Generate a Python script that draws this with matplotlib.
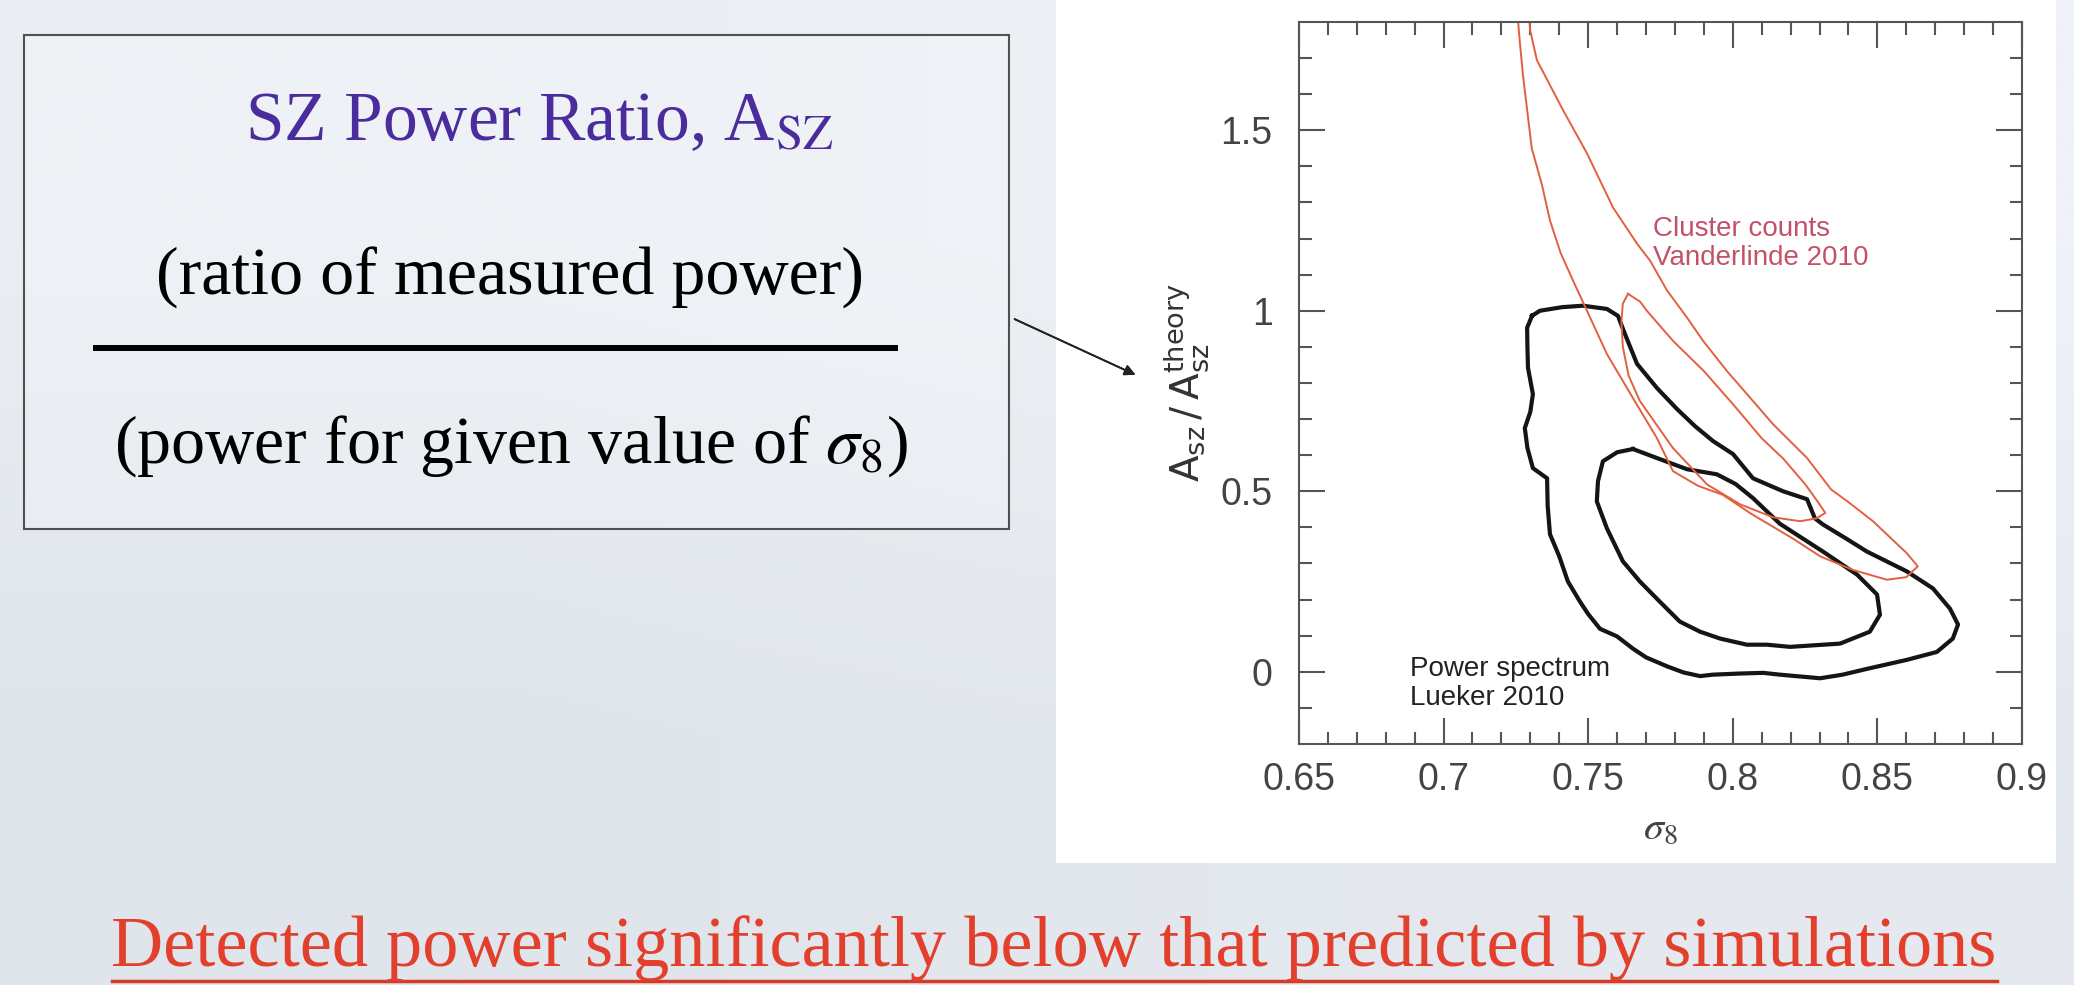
import numpy as np
import matplotlib.pyplot as plt
from matplotlib.patches import Rectangle
from matplotlib.lines import Line2D

plt.rcParams['mathtext.fontset'] = 'stix'

# contour outlines: sigma_8 vs A_sz / A_sz^theory
# power spectrum (Lueker 2010), 95% and 68%
ps95_x = [0.7306, 0.7333, 0.7410, 0.7482, 0.7565, 0.7603, 0.7627, 0.7669, 0.7738, 0.7807,
          0.7870, 0.7932, 0.8001, 0.8070, 0.8174, 0.8257, 0.8284, 0.8312, 0.8390, 0.8464,
          0.8602, 0.8692, 0.8751, 0.8779, 0.8761, 0.8706, 0.8602, 0.8464, 0.8380, 0.8302,
          0.8163, 0.8105, 0.8020, 0.7932, 0.7887, 0.7830, 0.7773, 0.7700, 0.7655, 0.7600,
          0.7541, 0.7500, 0.7472, 0.7430, 0.7400, 0.7368, 0.7360, 0.7358, 0.7309, 0.7290,
          0.7281, 0.7300, 0.7309, 0.7292, 0.7290, 0.7289]
ps95_y = [0.986, 1.000, 1.010, 1.014, 1.005, 0.986, 0.936, 0.853, 0.786, 0.728,
          0.680, 0.639, 0.603, 0.536, 0.500, 0.478, 0.425, 0.408, 0.370, 0.333,
          0.278, 0.231, 0.175, 0.131, 0.092, 0.055, 0.033, 0.008, -0.008, -0.018,
          -0.008, -0.003, -0.005, -0.008, -0.012, -0.002, 0.015, 0.040, 0.064, 0.098,
          0.119, 0.160, 0.194, 0.250, 0.320, 0.381, 0.460, 0.536, 0.564, 0.620,
          0.675, 0.720, 0.769, 0.842, 0.900, 0.953]
ps68_x = [0.7655, 0.7738, 0.7842, 0.7945, 0.8010, 0.8070, 0.8163, 0.8250, 0.8312, 0.8430,
          0.8499, 0.8509, 0.8474, 0.8371, 0.8198, 0.8118, 0.8049, 0.7956, 0.7887, 0.7817,
          0.7748, 0.7679, 0.7620, 0.7565, 0.7530, 0.7534, 0.7551, 0.7600]
ps68_y = [0.617, 0.592, 0.561, 0.547, 0.520, 0.481, 0.410, 0.365, 0.333, 0.269,
          0.214, 0.158, 0.111, 0.078, 0.069, 0.075, 0.075, 0.092, 0.111, 0.139,
          0.194, 0.250, 0.306, 0.397, 0.472, 0.528, 0.583, 0.608]

# cluster counts (Vanderlinde 2010), 95% (runs off the top) and 68%
cl95_x = [0.7250, 0.7258, 0.7264, 0.7275, 0.7290, 0.7305, 0.7340, 0.7368, 0.7405, 0.7448,
          0.7496, 0.7565, 0.7655, 0.7738, 0.7793, 0.7880, 0.7966, 0.8063, 0.8208, 0.8302,
          0.8416, 0.8533, 0.8600, 0.8640,
          0.8600, 0.8560, 0.8485, 0.8400, 0.8340, 0.8257, 0.8139, 0.8070, 0.7980, 0.7897,
          0.7842, 0.7773, 0.7714, 0.7669, 0.7586, 0.7496, 0.7413, 0.7323, 0.7299, 0.7290]
cl95_y = [1.900, 1.800, 1.742, 1.650, 1.550, 1.450, 1.350, 1.250, 1.160, 1.083,
          1.000, 0.880, 0.758, 0.647, 0.556, 0.515, 0.490, 0.438, 0.369, 0.320,
          0.282, 0.255, 0.262, 0.292,
          0.330, 0.360, 0.417, 0.470, 0.505, 0.592, 0.686, 0.750, 0.833, 0.917,
          0.981, 1.056, 1.139, 1.186, 1.286, 1.436, 1.556, 1.694, 1.778, 1.900]
cl68_x = [0.7638, 0.7680, 0.7703, 0.7793, 0.7900, 0.8000, 0.8100, 0.8175, 0.8250, 0.8295,
          0.8320, 0.8290, 0.8233, 0.8139, 0.8025, 0.7911, 0.7793, 0.7679, 0.7640, 0.7620,
          0.7615, 0.7620]
cl68_y = [1.047, 1.025, 1.000, 0.917, 0.833, 0.742, 0.647, 0.590, 0.520, 0.470,
          0.440, 0.425, 0.417, 0.428, 0.464, 0.519, 0.620, 0.750, 0.820, 0.900,
          0.970, 1.020]

xticks = [0.65, 0.7, 0.75, 0.8, 0.85, 0.9]
xtick_labels = ['0.65', '0.7', '0.75', '0.8', '0.85', '0.9']
yticks = [0, 0.5, 1, 1.5]
ytick_labels = ['0', '0.5', '1', '1.5']

fig = plt.figure(figsize=(20.74, 9.85), dpi=100)

# pale snowy slide background
bg = fig.add_axes([0, 0, 1, 1], zorder=-10)
bg_colors = np.array([[[234, 238, 243], [239, 242, 246]],
                      [[224, 229, 236], [229, 233, 239]]]) / 255
bg.imshow(bg_colors, aspect='auto', interpolation='bilinear', extent=[0, 1, 0, 1])
bg.axis('off')

# white panel behind the pasted figure
fig.add_artist(Rectangle((0.5092, 0.1239), 0.4821, 0.8761, transform=fig.transFigure,
                         facecolor='white', edgecolor='none', zorder=-5))

ax = fig.add_axes([0.6263, 0.2447, 0.3486, 0.7330])
ax.set_facecolor('none')

black = '#151515'
red = '#e2603f'
ax.plot(ps95_x + ps95_x[:1], ps95_y + ps95_y[:1], color=black, lw=3)
ax.plot(ps68_x + ps68_x[:1], ps68_y + ps68_y[:1], color=black, lw=3)
ax.plot(cl95_x, cl95_y, color=red, lw=1.4)
ax.plot(cl68_x + cl68_x[:1], cl68_y + cl68_y[:1], color=red, lw=1.4)

ax.set_xlim(0.65, 0.9)
ax.set_ylim(-0.2, 1.8)
ax.set_xticks(xticks, xtick_labels)
ax.set_yticks(yticks, ytick_labels)
ax.set_xticks(np.arange(0.66, 0.9, 0.01), minor=True)
ax.set_yticks(np.arange(-0.1, 1.8, 0.1), minor=True)
ax.tick_params(which='both', direction='in', top=True, right=True, color='#555555', width=1.5)
ax.tick_params(which='major', length=19)
ax.tick_params(which='minor', length=9)
ax.tick_params(axis='x', which='major', pad=13)
ax.tick_params(axis='y', which='major', pad=19)
for lab in ax.get_xticklabels() + ax.get_yticklabels():
    lab.set_fontfamily('Liberation Sans')
    lab.set_fontsize(27)
    lab.set_color('#444444')
for sp in ax.spines.values():
    sp.set_color('#555555')
    sp.set_linewidth(1.5)

ax.set_xlabel(r'$\sigma_8$', fontsize=29, color='#444444')
ax.xaxis.set_label_coords(0.5, -0.088)
ax.set_ylabel(r'$\mathrm{A}_{\mathrm{sz}}\,/\,\mathrm{A}_{\mathrm{sz}}^{\mathrm{theory}}$',
              fontsize=28, color='#333333', math_fontfamily='dejavusans')
ax.yaxis.set_label_coords(-0.12, 0.5)

ax.text(0.7724, 1.262, 'Cluster counts\nVanderlinde 2010', color='#c4506a', fontsize=20,
        family='Liberation Sans', va='top', ha='left', linespacing=1.15)
ax.text(0.6884, 0.045, 'Power spectrum\nLueker 2010', color='#222222', fontsize=20,
        family='Liberation Sans', va='top', ha='left', linespacing=1.15)

# definition box on the left
fig.add_artist(Rectangle((0.01157, 0.4629), 0.4749, 0.5016, transform=fig.transFigure,
                         facecolor='white', alpha=0.2, edgecolor='none'))
fig.add_artist(Rectangle((0.01157, 0.4629), 0.4749, 0.5016, transform=fig.transFigure,
                         fill=False, edgecolor='#505050', lw=1.5))
fig.text(0.2599, 0.8579, r'SZ Power Ratio, A$_{\mathrm{SZ}}$', color='#4b2c9c',
         fontsize=50, family='Liberation Serif', ha='center', va='baseline')
fig.text(0.2459, 0.7005, '(ratio of measured power)', color='black',
         fontsize=49, family='Liberation Serif', ha='center', va='baseline')
fig.add_artist(Line2D([0.0463, 0.4315], [0.6467, 0.6467], color='black', lw=4.3))
fig.text(0.2464, 0.5300, r'(power for given value of $\sigma_8$)', color='black',
         fontsize=49, family='Liberation Serif', ha='center', va='baseline')

# arrow from the box to the axis label
fig.add_artist(plt.annotate('', xy=(0.5487, 0.6183), xytext=(0.4880, 0.6772),
                            xycoords='figure fraction', textcoords='figure fraction',
                            arrowprops=dict(arrowstyle='-|>', color='#222222', lw=1.3,
                                            mutation_scale=16)))

# conclusion line at the bottom
fig.text(0.5082, 0.0193, 'Detected power significantly below that predicted by simulations',
         color='#e2402c', fontsize=52, family='Liberation Serif', ha='center', va='baseline')
fig.add_artist(Line2D([0.054, 0.963], [0.0045, 0.0045], color='#d63a28', lw=2.5))

fig.savefig('out.png', dpi=100)
